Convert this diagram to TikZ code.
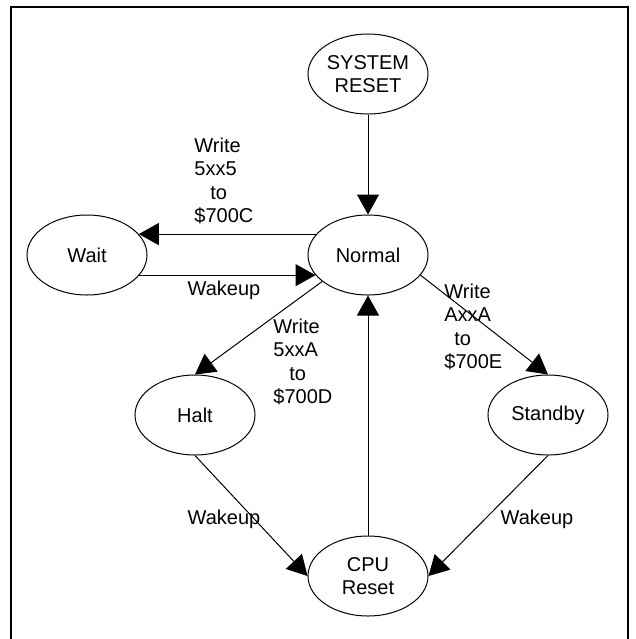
\documentclass[tikz,border=0pt]{standalone}
\usepackage{fontspec}
\setmainfont{Liberation Sans}
\usetikzlibrary{shapes.geometric,arrows.meta}
\begin{document}
\begin{tikzpicture}[x=0.5pt,y=-0.5pt]
        \tikzset{
        st/.style={ellipse, draw, line width=0.5pt, minimum width=60pt,
        minimum height=40pt, inner sep=0pt, align=center, font=\fontsize{10}{11.75}\selectfont},
        lbl/.style={inner sep=0pt, align=left, font=\fontsize{10}{11.75}\selectfont},
        tr/.style={-{Triangle[length=10pt,width=11pt]}, line width=0.5pt}
        }
        \useasboundingbox (0,0) rectangle (636,639);
        \draw[line width=1pt] (11,639) -- (11,7) -- (628,7) -- (628,639);

        \node[st] (sysreset) at (368,74) {SYSTEM\\RESET};
        \node[st] (normal) at (368,255) {Normal};
        \node[st] (wait) at (87,255) {Wait};
        \node[st] (halt) at (195,415) {Halt};
        \node[st] (standby) at (548,415) {Standby};
        \node[st] (cpureset) at (368,576) {CPU\\Reset};

        \node[lbl, anchor=west] (l5xx5) at (194,181) {Write\\5xx5\\\hspace*{8pt}to\\\$700C};
        \node[lbl, anchor=west] (l5xxA) at (273,362) {Write\\5xxA\\\hspace*{8pt}to\\\$700D};
        \node[lbl, anchor=west] (lAxxA) at (444,327) {Write\\AxxA\\\hspace*{5pt}to\\\$700E};
        \node[lbl] (wk1) at (224,290) {Wakeup};
        \node[lbl] (wk2) at (224,519) {Wakeup};
        \node[lbl] (wk3) at (537,519) {Wakeup};

        \draw[tr] (sysreset) -- (normal);
        \draw[tr] (normal.158) -- (wait.22);
        \draw[tr] (wait.-21) -- (normal.201);
        \draw[tr] (normal.210) -- (halt.north);
        \draw[tr] (normal.-21) -- (standby.north);
        \draw[tr] (halt.south) -- (cpureset.west);
        \draw[tr] (standby.south) -- (cpureset.east);
        \draw[tr] (cpureset) -- (normal);
\end{tikzpicture}
\end{document}
